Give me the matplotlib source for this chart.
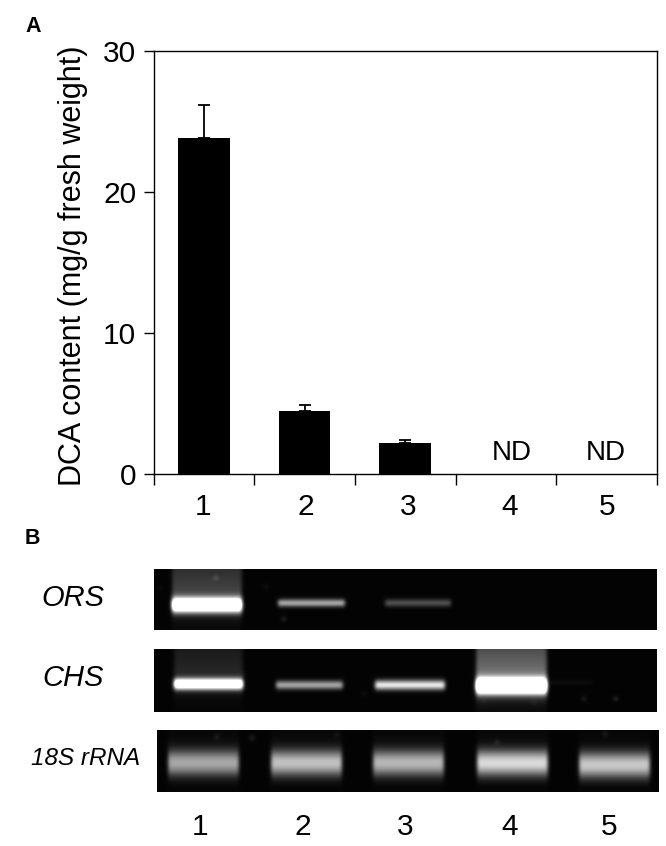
import numpy as np
import matplotlib
matplotlib.use("Agg")
import matplotlib.pyplot as plt

plt.rcParams['font.family'] = ['Liberation Sans', 'DejaVu Sans']

W, H = 666, 846

# panel A
bar_pos = [0.5, 1.5, 2.5]
dca = [23.8, 4.5, 2.2]
dca_err = [2.4, 0.4, 0.2]
nd_pos = [3.56, 4.49]
lane_label_pos = [0.49, 1.51, 2.53, 3.54, 4.5]
lane_labels = ['1', '2', '3', '4', '5']

# panel B: (x start, x end, y centre, thickness, brightness, smear above)
ors_bands = [(17, 89, 36, 11, 1.6, 0.30), (123, 192, 34, 5, 0.78, 0),
             (230, 298, 34, 5, 0.36, 0)]
chs_bands = [(19, 90, 35, 8, 1.5, 0.16), (121, 190, 36, 6, 0.72, 0),
             (220, 292, 36, 7, 1.0, 0), (321, 394, 37, 12, 1.8, 0.52),
             (394, 440, 34, 1, 0.14, 0)]
rrna_bands = [(10, 83, 33, 20, 0.62, 0.03), (113, 186, 33, 20, 0.72, 0.03),
              (215, 288, 33, 20, 0.68, 0.03), (319, 392, 33, 20, 0.82, 0.03),
              (421, 494, 35, 20, 0.76, 0.02)]
# faint specks on the gels: (x, y, brightness)
ors_specks = [(62, 9, 0.28), (130, 50, 0.25), (112, 18, 0.12), (6, 20, 0.06)]
chs_specks = [(330, 52, 0.1), (380, 53, 0.1), (430, 50, 0.2), (462, 50, 0.28),
              (90, 25, 0.1), (210, 45, 0.1)]
rrna_specks = [(60, 7, 0.2), (95, 8, 0.25), (180, 5, 0.12), (340, 12, 0.2), (448, 4, 0.2)]

gel_rows = ['ORS', 'CHS', '18S rRNA']
gel_row_sizes = [21, 21, 17.5]


def blur(img, sigma=1.7):
    r = int(3 * sigma)
    k = np.exp(-0.5 * (np.arange(-r, r + 1) / sigma) ** 2)
    k /= k.sum()
    img = np.pad(img, r, mode='edge')
    img = np.apply_along_axis(lambda v: np.convolve(v, k, mode='same'), 0, img)
    img = np.apply_along_axis(lambda v: np.convolve(v, k, mode='same'), 1, img)
    return img[r:-r, r:-r]


def gel_image(w, h, bands, specks, background=0.015):
    xx, yy = np.meshgrid(np.arange(w) + 0.5, np.arange(h) + 0.5)
    img = np.full((h, w), background, dtype=float)
    for x0, x1, yc, th, peak, smear in bands:
        across = np.clip((xx - x0) / 2.5, 0, 1) * np.clip((x1 - xx) / 2.5, 0, 1)
        img += peak * across * np.exp(-np.abs((yy - yc) / (th * 0.62)) ** 2.2)
        if smear:
            up = np.where(yy < yc, 1.0, np.exp(-(yy - yc) / 9.0))
            img += smear * across * up * (0.55 + 0.45 * np.clip(yy / yc, 0, 1))
    for x, y, b in specks:
        img += b * np.exp(-((xx - x) ** 2 + (yy - y) ** 2) / 3.0)
    return np.clip(blur(img), 0, 1)


def px_axes(x0, y0, x1, y1):
    return fig.add_axes([x0 / W, 1 - y1 / H, (x1 - x0) / W, (y1 - y0) / H])


fig = plt.figure(figsize=(W / 100, H / 100), dpi=100)

# --- Panel A ---
ax = px_axes(153.5, 51, 657, 474)
ax.bar(bar_pos, dca, width=0.515, color='black')
ax.errorbar(bar_pos, dca, yerr=[[0, 0, 0], dca_err], fmt='none', ecolor='black',
            elinewidth=1.3, capsize=4.5, capthick=1.3)
for x in nd_pos:
    ax.text(x, 1.5, 'ND', ha='center', va='center', fontsize=20)
ax.set_xlim(0, 5)
ax.set_ylim(0, 30)
ax.set_yticks([0, 10, 20, 30])
ax.set_xticks(range(6))
ax.set_xticklabels([])
ax.set_xticks(lane_label_pos, minor=True)
ax.set_xticklabels(lane_labels, minor=True)
ax.tick_params(axis='x', which='major', length=8, width=1.0, direction='out')
ax.tick_params(axis='x', which='minor', length=0, pad=14, labelsize=21.5)
ax.tick_params(axis='y', length=7, width=1.0, direction='out', labelsize=21.5, pad=5.5)
for s in ax.spines.values():
    s.set_linewidth(1.0)
fig.text(73 / W, 1 - 266 / H, 'DCA content (mg/g fresh weight)', rotation=90,
         ha='center', va='center', fontsize=22)

# --- Panel B ---
gels = [((154, 569, 657, 630), ors_bands, ors_specks),
        ((154, 649, 657, 712), chs_bands, chs_specks),
        ((157, 730, 659, 792), rrna_bands, rrna_specks)]
for (x0, y0, x1, y1), bands, specks in gels:
    a = px_axes(x0, y0, x1, y1)
    a.imshow(gel_image(x1 - x0, y1 - y0, bands, specks), cmap='gray', vmin=0, vmax=1,
             aspect='auto', interpolation='bilinear')
    a.axis('off')

for label, x, y, size in zip(gel_rows, [73, 73, 86], [598, 678, 758], gel_row_sizes):
    fig.text(x / W, 1 - y / H, label, style='italic', ha='center', va='center', fontsize=size)
for label, x in zip(lane_labels, [200, 303, 405, 510, 609]):
    fig.text(x / W, 1 - 827 / H, label, ha='center', va='center', fontsize=21.5)

fig.text(33 / W, 1 - 27 / H, 'A', weight='bold', ha='center', va='center', fontsize=15.5)
fig.text(32 / W, 1 - 538 / H, 'B', weight='bold', ha='center', va='center', fontsize=15.5)

plt.savefig('out.png', dpi=100)
plt.close()
